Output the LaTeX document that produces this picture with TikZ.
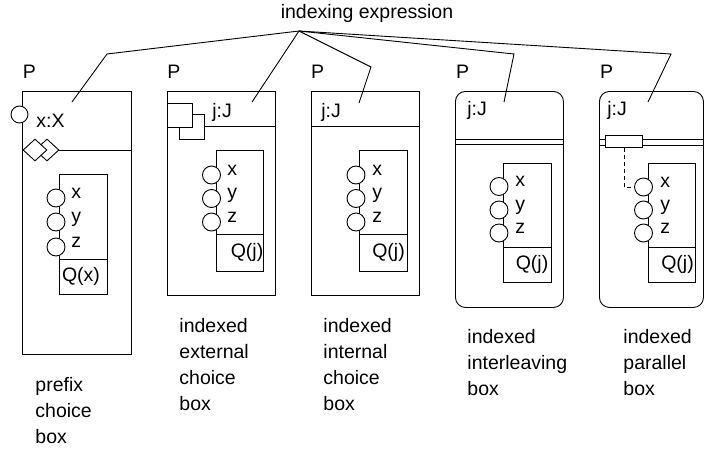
\documentclass[tikz,border=0pt]{standalone}
\usepackage{fontspec}
\setmainfont{Liberation Sans}
\usetikzlibrary{shapes.geometric}
\begin{document}
\begin{tikzpicture}[x=1pt, y=-1pt, line width=0.9pt,
  every node/.style={font=\fontsize{19.5}{26}\selectfont},
  frame/.style={draw, inner sep=0, anchor=north west},
  roundframe/.style={frame, rounded corners=10pt},
  port/.style={circle, draw, fill=white, inner sep=0, minimum size=18pt},
  portlbl/.style={inner sep=0, anchor=base west},
  txt/.style={inner sep=0, anchor=base},
  caption/.style={inner sep=0, anchor=north west, align=left},
  choicemark/.style={diamond, draw, fill=white, inner sep=0, minimum width=24pt, minimum height=22pt},
  extmark/.style={draw, fill=white, inner sep=0, minimum size=24.5pt, anchor=north west},
  syncbar/.style={draw, fill=white, inner sep=0, minimum width=37pt, minimum height=12pt, anchor=north west},
  link/.style={dashed, dash pattern=on 4pt off 3pt}
]
\useasboundingbox (0,0) rectangle (704,450);

% ---------- shared indexing expression ----------
\node[txt] (expr) at (367,18) {indexing expression};
\coordinate (apex) at (299,31);

% ---------- prefix choice box ----------
\node[frame, minimum width=109pt, minimum height=263pt] (b1) at (22,91) {};
\node[txt] (p1) at (29.5,78) {P};
\draw (22,150) -- (131,150);
\node[port, minimum size=17pt] (in1) at (19.5,114.5) {};
\node[txt] (ix1) at (50.5,127) {x:X};
\node[choicemark] (d2) at (47,150) {};
\node[choicemark] (d1) at (35,150) {};
\node[frame, minimum width=48pt, minimum height=120pt] (q1) at (59,174) {};
\draw (59,259) -- (107,259);
\node (qx) at (81,276.5) {Q(x)};
\foreach \n/\t/\yy in {x/x/198, y/y/222, z/z/247} {
  \node[port] (c1\n) at (56,\yy) {};
  \node[portlbl] at (71,\yy) {\t};
}
\node[caption] (cap1) at (35,377) {prefix\\choice\\box};

% ---------- indexed external choice box ----------
\node[frame, minimum width=108pt, minimum height=204pt] (b2) at (167,91) {};
\node[txt] (p2) at (174,78) {P};
\draw (167,126.5) -- (275,126.5);
\node[txt] (ix2) at (222,117) {j:J};
\node[extmark] (s2) at (179,114) {};
\node[extmark] (s1) at (167,102.5) {};
\node[frame, minimum width=47pt, minimum height=121pt] (q2) at (216,150) {};
\draw (216,234) -- (263,234);
\node (qj2) at (247,252.5) {Q(j)};
\foreach \n/\t/\yy in {x/x/175, y/y/198.5, z/z/222} {
  \node[port] (c2\n) at (211.5,\yy) {};
  \node[portlbl] at (227,\yy) {\t};
}
\node[caption] (cap2) at (179,318) {indexed\\external\\choice\\box};

% ---------- indexed internal choice box ----------
\node[frame, minimum width=108pt, minimum height=204pt] (b3) at (311,91) {};
\node[txt] (p3) at (317.5,78) {P};
\draw (311,126.5) -- (419,126.5);
\node[txt] (ix3) at (331,117) {j:J};
\node[frame, minimum width=48pt, minimum height=121pt] (q3) at (359,150) {};
\draw (359,234) -- (407,234);
\node (qj3) at (388.5,252.5) {Q(j)};
\foreach \n/\t/\yy in {x/x/175, y/y/198.5, z/z/222} {
  \node[port] (c3\n) at (356,\yy) {};
  \node[portlbl] at (372,\yy) {\t};
}
\node[caption] (cap3) at (323,318) {indexed\\internal\\choice\\box};

% ---------- indexed interleaving box ----------
\node[roundframe, minimum width=108pt, minimum height=216pt] (b4) at (455,91) {};
\node[txt] (p4) at (462.5,78) {P};
\draw (455,139) -- (563,139);
\draw (455,144.5) -- (563,144.5);
\node[txt] (ix4) at (477,115.5) {j:J};
\node[frame, minimum width=48pt, minimum height=119pt] (q4) at (503,163) {};
\draw (503,247) -- (551,247);
\node (qj4) at (532,264.5) {Q(j)};
\foreach \n/\t/\yy in {x/x/186.5, y/y/210, z/z/233} {
  \node[port] (c4\n) at (499,\yy) {};
  \node[portlbl] at (515,\yy) {\t};
}
\node[caption] (cap4) at (467,329) {indexed\\interleaving\\box};

% ---------- indexed parallel box ----------
\node[roundframe, minimum width=104pt, minimum height=216pt] (b5) at (599,91) {};
\node[txt] (p5) at (606.5,78) {P};
\draw (599,139) -- (703,139);
\draw (599,145) -- (703,145);
\node[txt] (ix5) at (617,115.5) {j:J};
\node[syncbar] (sync) at (605,135) {};
\node[frame, minimum width=47pt, minimum height=119pt] (q5) at (648,163) {};
\draw (648,247) -- (695,247);
\node (qj5) at (677.5,264.5) {Q(j)};
\foreach \n/\t/\yy in {x/x/187, y/y/210, z/z/233} {
  \node[port] (c5\n) at (643.5,\yy) {};
  \node[portlbl] at (660,\yy) {\t};
}
\draw[link] (sync.south) |- (c5x.west);
\node[caption] (cap5) at (623,329) {indexed\\parallel\\box};

% ---------- leader lines from the indexing expression ----------
\coordinate (e1) at (72,102);  \coordinate (k1) at (107,54);
\coordinate (e2) at (252,102);
\coordinate (e3) at (359,103); \coordinate (k3) at (371,67);
\coordinate (e4) at (504,102); \coordinate (k4) at (514,54);
\coordinate (e5) at (648,102); \coordinate (k5) at (671,54);
\draw (apex) -- (k1) -- (e1);
\draw (apex) -- (e2);
\draw (apex) -- (k3) -- (e3);
\draw (apex) -- (k4) -- (e4);
\draw (apex) -- (k5) -- (e5);
\end{tikzpicture}
\end{document}
